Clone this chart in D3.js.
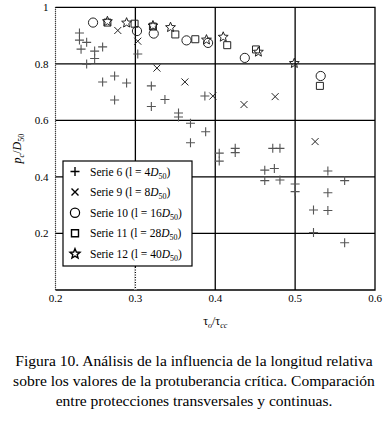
<!DOCTYPE html>
<meta charset="utf-8">
<style>
  body { margin: 0; background: #fff; }
  text { font-family: 'Liberation Serif', 'DejaVu Serif', serif; }
</style>
<svg width="386" height="422"></svg>
<script src="https://d3js.org/d3.v7.min.js"></script>
<script>
// values: [tau_o/tau_cc, p_c/D50]
var serie6 = [
  [0.230, 0.909], [0.230, 0.884], [0.239, 0.876], [0.232, 0.852], [0.249, 0.845],
  [0.259, 0.860], [0.249, 0.819], [0.239, 0.799], [0.303, 0.835], [0.259, 0.736],
  [0.274, 0.757], [0.289, 0.732], [0.274, 0.672], [0.320, 0.722], [0.337, 0.674],
  [0.320, 0.649], [0.354, 0.626], [0.354, 0.612], [0.369, 0.590], [0.388, 0.560],
  [0.369, 0.521], [0.405, 0.484], [0.405, 0.456], [0.425, 0.501], [0.425, 0.486],
  [0.472, 0.501], [0.481, 0.501], [0.462, 0.424], [0.474, 0.430], [0.462, 0.387],
  [0.481, 0.389], [0.500, 0.375], [0.500, 0.348], [0.541, 0.421], [0.541, 0.344],
  [0.562, 0.387], [0.523, 0.283], [0.541, 0.281], [0.523, 0.203], [0.562, 0.167],
  [0.387, 0.686]
];
var serie9 = [
  [0.278, 0.918], [0.303, 0.880], [0.327, 0.785], [0.362, 0.736],
  [0.397, 0.686], [0.436, 0.656], [0.475, 0.684], [0.525, 0.525]
];
var serie10 = [
  [0.247, 0.946], [0.302, 0.916], [0.323, 0.907], [0.364, 0.883],
  [0.391, 0.874], [0.437, 0.821], [0.532, 0.757]
];
var serie11 = [
  [0.265, 0.946], [0.299, 0.942], [0.322, 0.932], [0.350, 0.904],
  [0.375, 0.887], [0.415, 0.866], [0.451, 0.851], [0.531, 0.722]
];
var serie12 = [
  [0.265, 0.950], [0.289, 0.945], [0.322, 0.935], [0.344, 0.929],
  [0.389, 0.885], [0.410, 0.895], [0.454, 0.842], [0.499, 0.802]
];
var legendNames = ["Serie 6", "Serie 9", "Serie 10", "Serie 11", "Serie 12"];
var legendLengths = ["4", "8", "16", "28", "40"];
var xTicks = [0.2, 0.3, 0.4, 0.5, 0.6];
var yTicks = [0.2, 0.4, 0.6, 0.8, 1];
var caption = [
  "Figura 10. Análisis de la influencia de la longitud relativa",
  "sobre los valores de la protuberancia crítica. Comparación",
  "entre protecciones transversales y continuas."
];

var svg = d3.select("svg");
var plotLeft = 55.5, plotRight = 375, plotTop = 7.3, plotBottom = 290;

var x = d3.scaleLinear().domain([0.2, 0.6]).range([plotLeft, plotRight]);
var y = d3.scaleLinear().domain([0, 1]).range([plotBottom, plotTop]);

// grid
var grid = svg.append("g").attr("stroke", "#000").attr("stroke-width", 1.3);
grid.selectAll(".vx").data(xTicks.slice(1, 4)).enter().append("line")
    .attr("x1", d => x(d)).attr("x2", d => x(d))
    .attr("y1", y(1)).attr("y2", y(0));
grid.selectAll(".hy").data(yTicks.slice(0, 4)).enter().append("line")
    .attr("x1", x(0.2)).attr("x2", x(0.6))
    .attr("y1", d => y(d)).attr("y2", d => y(d));

// frame
svg.append("path")
    .attr("d", "M" + x(0.2) + "," + y(1) + "H" + x(0.6) + "V" + y(0) + "H" + x(0.2))
    .attr("fill", "none").attr("stroke", "#000").attr("stroke-width", 1.3);
svg.append("line")
    .attr("x1", x(0.2)).attr("x2", x(0.2)).attr("y1", y(1)).attr("y2", y(0))
    .attr("stroke", "#000").attr("stroke-width", 1.2).attr("stroke-dasharray", "1,1");

// axes labels
svg.append("g").selectAll("text").data(xTicks).enter().append("text")
    .attr("x", d => x(d)).attr("y", plotBottom + 12)
    .attr("text-anchor", "middle").attr("font-size", 11)
    .text(d => d3.format(".1f")(d));
svg.append("g").selectAll("text").data(yTicks).enter().append("text")
    .attr("x", plotLeft - 7).attr("y", d => y(d) + 4)
    .attr("text-anchor", "end").attr("font-size", 11)
    .text(d => d === 1 ? "1" : d3.format(".1f")(d));

// x title: tau_o / tau_cc
var xt = svg.append("text").attr("x", x(0.4)).attr("y", 325)
    .attr("text-anchor", "middle").attr("font-size", 12);
xt.append("tspan").text("τ");
xt.append("tspan").attr("font-size", 8).attr("font-style", "italic").attr("dy", 3).text("o");
xt.append("tspan").attr("dy", -3).text("/τ");
xt.append("tspan").attr("font-size", 8).attr("font-style", "italic").attr("dy", 3).text("cc");

// y title: p_c / D_50
var yt = svg.append("text")
    .attr("transform", "translate(21," + y(0.5) + ") rotate(-90)")
    .attr("text-anchor", "middle").attr("font-size", 12);
yt.append("tspan").attr("font-style", "italic").text("p");
yt.append("tspan").attr("font-size", 8).attr("font-style", "italic").attr("dy", 3).text("c");
yt.append("tspan").attr("dy", -3).text("/");
yt.append("tspan").attr("font-style", "italic").text("D");
yt.append("tspan").attr("font-size", 8).attr("dy", 3).text("50");

// symbol paths
function plus(h) { return "M" + (-h) + ",0H" + h + "M0," + (-h) + "V" + h; }
function times(h) { return "M" + (-h) + "," + (-h) + "L" + h + "," + h + "M" + (-h) + "," + h + "L" + h + "," + (-h); }
function square(h) { return "M" + (-h) + "," + (-h) + "H" + h + "V" + h + "H" + (-h) + "Z"; }
function star(R, r) {
  var p = [];
  for (var i = 0; i < 10; i++) {
    var a = -Math.PI / 2 + i * Math.PI / 5, rr = i % 2 ? r : R;
    p.push([rr * Math.cos(a), rr * Math.sin(a)]);
  }
  return "M" + p.join("L") + "Z";
}

var series = [
  {data: serie6, d: plus(4.5), stroke: "#555", w: 1.1},
  {data: serie9, d: times(3.5), stroke: "#222", w: 1},
  {data: serie10, d: "circle", stroke: "#222", w: 1},
  {data: serie11, d: square(3.5), stroke: "#222", w: 1},
  {data: serie12, d: star(5.2, 2.3), stroke: "#222", w: 1}
];

series.forEach(function(s) {
  var g = svg.append("g").attr("fill", "none").attr("stroke", s.stroke).attr("stroke-width", s.w);
  if (s.d === "circle") {
    g.selectAll("circle").data(s.data).enter().append("circle")
        .attr("cx", d => x(d[0])).attr("cy", d => y(d[1])).attr("r", 4.6);
  } else {
    g.selectAll("path").data(s.data).enter().append("path")
        .attr("transform", d => "translate(" + x(d[0]) + "," + y(d[1]) + ")")
        .attr("d", s.d);
  }
});

// legend
var lx = 63, ly = 161, lw = 129, lh = 105;
svg.append("rect").attr("x", lx).attr("y", ly).attr("width", lw).attr("height", lh)
    .attr("fill", "#fff").attr("stroke", "#000").attr("stroke-width", 1.2);
// dotted part of the 0.3 line under the legend
svg.append("line").attr("x1", x(0.3)).attr("x2", x(0.3)).attr("y1", ly + lh + 1).attr("y2", y(0))
    .attr("stroke", "#fff").attr("stroke-width", 2);
svg.append("line").attr("x1", x(0.3)).attr("x2", x(0.3)).attr("y1", ly + lh + 1).attr("y2", y(0))
    .attr("stroke", "#000").attr("stroke-width", 1.2).attr("stroke-dasharray", "1,1.5");

var leg = svg.append("g").selectAll("g").data(series).enter().append("g")
    .attr("transform", (d, i) => "translate(" + (lx + 12) + "," + (ly + 10.5 + i * 20.6) + ")");
leg.each(function(s, i) {
  var g = d3.select(this);
  if (s.d === "circle") {
    g.append("circle").attr("r", 4.6).attr("fill", "none").attr("stroke", "#000").attr("stroke-width", 1.2);
  } else {
    g.append("path").attr("d", s.d).attr("fill", "none").attr("stroke", "#000").attr("stroke-width", 1.4);
  }
  var t = g.append("text").attr("x", 15).attr("y", 4).attr("font-size", 11.5);
  t.append("tspan").text(legendNames[i] + " (l = " + legendLengths[i]);
  t.append("tspan").attr("font-style", "italic").text("D");
  t.append("tspan").attr("font-size", 8).attr("dy", 3).text("50");
  t.append("tspan").attr("dy", -3).text(")");
});

// caption
var cap = svg.append("g").selectAll("text").data(caption).enter().append("text")
    .attr("x", 194).attr("y", (d, i) => 366 + i * 20)
    .attr("text-anchor", "middle").attr("font-size", 14.5)
    .text(d => d);
var w0 = cap.node().getComputedTextLength();
cap.attr("font-size", 14.5 * 358 / w0);
</script>
